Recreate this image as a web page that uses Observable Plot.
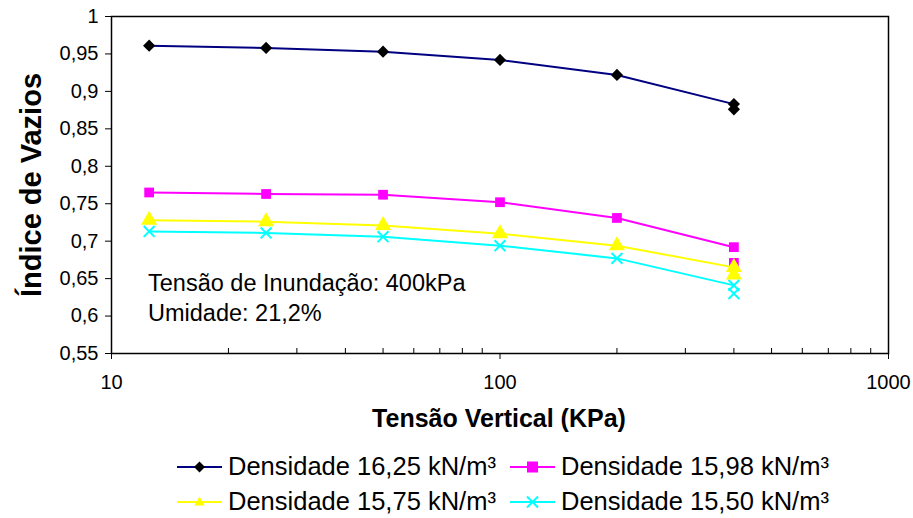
<!DOCTYPE html>
<html><head><meta charset="utf-8">
<script src="https://cdn.jsdelivr.net/npm/d3@7"></script>
<script src="https://cdn.jsdelivr.net/npm/@observablehq/plot@0.6"></script>
<style>
body{margin:0;background:#fff;font-family:"Liberation Sans",Arial,sans-serif;}
#wrap{position:relative;width:913px;height:518px;overflow:hidden;}
.abs{position:absolute;white-space:nowrap;color:#000;line-height:1;}
</style></head><body><div id="wrap"></div>
<script>
// ---- data ----
const pressures = [12.5, 25, 50, 100, 200, 400];
const seriesNames = ["Densidade 16,25 kN/m³", "Densidade 15,98 kN/m³", "Densidade 15,75 kN/m³", "Densidade 15,50 kN/m³"];
const e1625 = [0.961, 0.958, 0.953, 0.942, 0.922, 0.883];
const e1598 = [0.765, 0.763, 0.762, 0.752, 0.731, 0.692];
const e1575 = [0.728, 0.726, 0.721, 0.710, 0.694, 0.665];
const e1550 = [0.713, 0.711, 0.706, 0.694, 0.677, 0.641];
const afterInundation = [0.876, 0.671, 0.655, 0.630]; // at 400 kPa
const yTicks = [0.55, 0.6, 0.65, 0.7, 0.75, 0.8, 0.85, 0.9, 0.95, 1];
const xTicks = [10, 100, 1000];
const xMinor = [20,30,40,50,60,70,80,90,200,300,400,500,600,700,800,900];

const values = [e1625, e1598, e1575, e1550];
const lineColors = ["#000080", "#ff00ff", "#ffff00", "#00ffff"];
const markFill = ["#000000", "#ff00ff", "#ffff00", "none"];
const markStroke = ["none", "none", "none", "#00ffff"];
const symbols = ["diamond2", "square", "triangle", "times"];
const rs = [5.5, 5.5, 6, 5];

const rows = [];
values.forEach((arr, s) => arr.forEach((v, i) => rows.push({s, x: pressures[i], y: v})));
const after = afterInundation.map((v, s) => ({s, x: pressures[pressures.length - 1], y: v}));

const fmt = d => d3.format(".2~f")(d).replace(".", ",");

const marks = [
  Plot.frame({stroke: "#000", strokeWidth: 1.5}),
  Plot.axisY({ticks: yTicks, tickSize: 6, tickPadding: 7, tickFormat: fmt, label: null}),
  Plot.axisX({ticks: xTicks, tickSize: 6, tickPadding: 15, tickFormat: d => String(d), label: null}),
  Plot.axisX({ticks: xMinor, tickSize: -5, tickFormat: () => "", label: null}),
];
values.forEach((arr, s) => {
  const data = rows.filter(d => d.s === s);
  const extra = after.filter(d => d.s === s);
  marks.push(Plot.line(data, {x: "x", y: "y", stroke: lineColors[s], strokeWidth: 2}));
  const dotOpts = {x: "x", y: "y", symbol: () => symbols[s], r: rs[s], fill: markFill[s], stroke: markStroke[s], strokeWidth: 2};
  marks.push(Plot.dot(extra, dotOpts));
  marks.push(Plot.dot(data, dotOpts));
});

const chart = Plot.plot({
  width: 913, height: 518,
  marginLeft: 111, marginRight: 25, marginTop: 16, marginBottom: 165,
  style: {fontFamily: '"Liberation Sans", Arial, sans-serif', fontSize: "20px", color: "#000", background: "#fff", overflow: "visible"},
  x: {type: "log", domain: [10, 1000]},
  y: {domain: [0.55, 1]},
  symbol: {type: "identity"},
  marks
});
const wrap = document.getElementById("wrap");
wrap.appendChild(chart);

function addText(txt, css) {
  const d = document.createElement("div");
  d.className = "abs"; d.textContent = txt; d.style.cssText += css;
  wrap.appendChild(d); return d;
}
addText("Índice de Vazios", "left:31px;top:185px;font-weight:bold;font-size:29px;transform:translate(-50%,-50%) rotate(-90deg);");
addText("Tensão Vertical (KPa)", "left:499px;top:418px;font-weight:bold;font-size:25px;transform:translate(-50%,-50%);");
addText("Tensão de Inundação: 400kPa", "left:148px;top:284px;font-size:23.5px;transform:translateY(-50%);");
addText("Umidade: 21,2%", "left:148px;top:314px;font-size:23.5px;transform:translateY(-50%);");

// legend
const legPos = [[177, 467], [510, 467], [177, 502], [510, 502]];
const symPaths = {
  "diamond2": r => `M0,${-r}L${r},0L0,${r}L${-r},0Z`,
  "square": r => `M${-r},${-r}H${r}V${r}H${-r}Z`,
  "triangle": r => `M0,${-r}L${r*0.95},${r*0.65}L${-r*0.95},${r*0.65}Z`,
  "times": r => `M${-r},${-r}L${r},${r}M${r},${-r}L${-r},${r}`
};
seriesNames.forEach((name, s) => {
  const [lx, ly] = legPos[s];
  const ns = "http://www.w3.org/2000/svg";
  const svg = document.createElementNS(ns, "svg");
  svg.setAttribute("width", 50); svg.setAttribute("height", 20);
  svg.style.cssText = `position:absolute;left:${lx}px;top:${ly - 10}px;`;
  const l = document.createElementNS(ns, "line");
  l.setAttribute("x1", 0); l.setAttribute("x2", 45); l.setAttribute("y1", 10); l.setAttribute("y2", 10);
  l.setAttribute("stroke", lineColors[s]); l.setAttribute("stroke-width", 2);
  svg.appendChild(l);
  const p = document.createElementNS(ns, "path");
  p.setAttribute("d", symPaths[symbols[s]](s === 0 ? 5.5 : 5.5));
  p.setAttribute("transform", "translate(22.5,10)");
  p.setAttribute("fill", markFill[s]); p.setAttribute("stroke", markStroke[s]); p.setAttribute("stroke-width", 2);
  svg.appendChild(p);
  wrap.appendChild(svg);
  addText(name, `left:${lx + 51}px;top:${ly}px;font-size:25.5px;transform:translateY(-50%);`);
});
</script></body></html>
